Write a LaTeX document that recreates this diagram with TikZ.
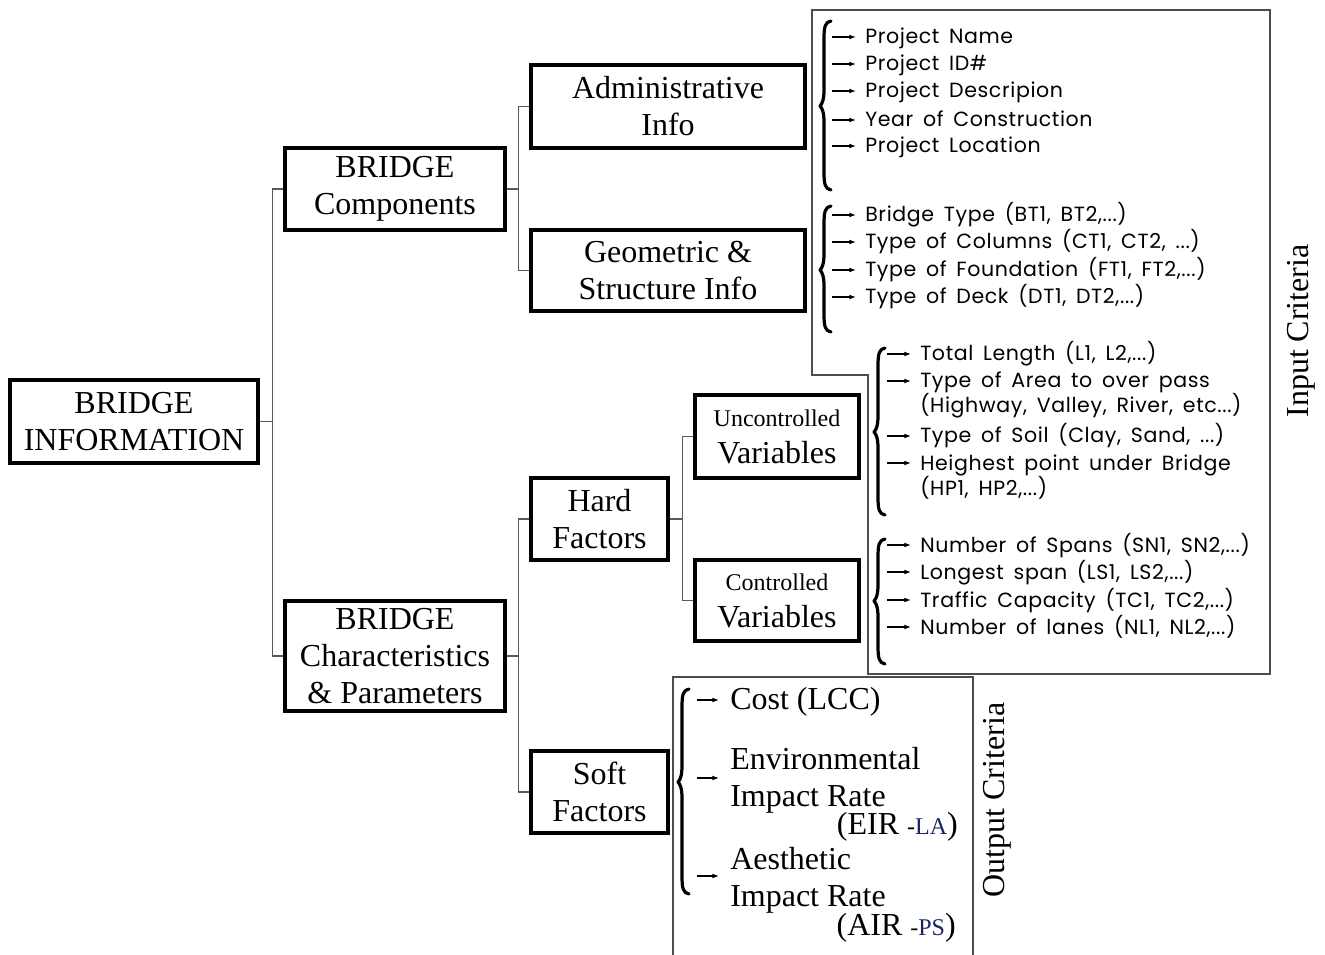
\documentclass[tikz,border=0pt]{standalone}
\usepackage{fontspec}
\setmainfont{Liberation Serif}
\newfontfamily\cadfont[WordSpace=1.6,LetterSpace=3]{Poppins}
\usetikzlibrary{arrows.meta,calc}
\definecolor{subnavy}{RGB}{25,35,100}

% curly brace opening to the right: tip x, top y, tip y, bottom y
\newcommand\curlybrace[4]{%
  \draw[bracepath] ({#1+11},#2) .. controls ({#1+5},{#2+1}) and ({#1+4},{#2+6}) .. ({#1+4},{#2+18})
    -- ({#1+4},{#3-16}) .. controls ({#1+4},{#3-6}) and ({#1+2},{#3-2}) .. (#1,#3)
    .. controls ({#1+2},{#3+2}) and ({#1+4},{#3+6}) .. ({#1+4},{#3+16})
    -- ({#1+4},{#4-18}) .. controls ({#1+4},{#4-6}) and ({#1+5},{#4-1}) .. ({#1+11},#4);}

% one list entry: name, arrow start x, y, text x, text
\newcommand\cadrow[5]{%
  \node[cad] (#1) at (#4,{#3+7}) {#5};
  \coordinate (#1a) at (#2,#3);
  \draw[listarrow] (#1a) -- ($(#1a -| #1.west)+(-9,0)$);}

\begin{document}
\begin{tikzpicture}[x=0.75pt,y=-0.75pt,
  box/.style={draw, line width=2.3pt, align=center, inner sep=0pt,
    font=\fontsize{24}{27.75}\selectfont},
  link/.style={draw=black!65, line width=0.9pt},
  listarrow/.style={-{Latex[length=5pt,width=3.6pt]}, line width=0.8pt},
  cad/.style={anchor=base west, inner sep=0pt, font=\cadfont\fontsize{15.4}{18}\selectfont},
  outtxt/.style={anchor=base west, inner sep=0pt, font=\fontsize{24}{27.75}\selectfont},
  bracepath/.style={line width=2.4pt, line cap=round, line join=round},
  critframe/.style={draw=black!70, line width=1.1pt},
  sidelabel/.style={rotate=90, inner sep=0pt, font=\fontsize{24}{28}\selectfont}
]
\useasboundingbox (0,0) rectangle (1325,955);

% tree boxes
\node[box, minimum width=186pt, minimum height=62.25pt] (info) at (134,421.5) {BRIDGE\\INFORMATION};
\node[box, minimum width=165pt, minimum height=61.5pt] (comp) at (395,189) {BRIDGE\\Components};
\node[box, minimum width=165pt, minimum height=82.5pt] (char) at (395,656) {BRIDGE\\Characteristics\\\& Parameters};
\node[box, minimum width=205.5pt, minimum height=62.25pt] (admin) at (668,106.5) {Administrative\\Info};
\node[box, minimum width=205.5pt, minimum height=60.75pt] (geom) at (668,270.5) {Geometric \&\\Structure Info};
\node[box, minimum width=102.75pt, minimum height=61.5pt] (hard) at (599.5,519) {Hard\\Factors};
\node[box, minimum width=102.75pt, minimum height=61.5pt] (soft) at (599.5,792) {Soft\\Factors};
\node[box, minimum width=123pt, minimum height=62.25pt] (unc) at (777,436.5) {{\fontsize{18}{20}\selectfont Uncontrolled}\\Variables};
\node[box, minimum width=123pt, minimum height=60.75pt] (con) at (777,600.5) {{\fontsize{18}{20}\selectfont Controlled}\\Variables};

% tree links
\draw[link] (info.east) -- ++(13,0) |- (comp.west);
\draw[link] (info.east) -- ++(13,0) |- (char.west);
\draw[link] (comp.east) -- ++(12,0) |- (admin.west);
\draw[link] (comp.east) -- ++(12,0) |- (geom.west);
\draw[link] (char.east) -- ++(12,0) |- (hard.west);
\draw[link] (char.east) -- ++(12,0) |- (soft.west);
\draw[link] (hard.east) -- ++(13,0) |- (unc.west);
\draw[link] (hard.east) -- ++(13,0) |- (con.west);

% criteria frames
\draw[critframe] (812,10) -- (1270,10) -- (1270,674) -- (868,674) -- (868,375) -- (812,375) -- cycle;
\draw[critframe] (673,958) -- (673,677) -- (973,677) -- (973,958);
\node[sidelabel] (inlabel) at (1301,331) {Input Criteria};
\node[sidelabel] (outlabel) at (997,800) {Output Criteria};

% administrative items
\curlybrace{820}{21}{106}{190}
\cadrow{pn}{832}{37}{865}{Project Name}
\cadrow{pid}{832}{64}{865}{Project ID\#}
\cadrow{pd}{832}{91}{865}{Project Descripion}
\cadrow{yc}{832}{120}{865}{Year of Construction}
\cadrow{pl}{832}{146}{865}{Project Location}

% geometric items
\curlybrace{820}{206}{270}{332}
\cadrow{bt}{832}{215}{865}{Bridge Type (BT1, BT2,...)}
\cadrow{tc}{832}{242}{865}{Type of Columns (CT1, CT2, ...)}
\cadrow{tf}{832}{270}{865}{Type of Foundation (FT1, FT2,...)}
\cadrow{td}{832}{297}{865}{Type of Deck (DT1, DT2,...)}

% uncontrolled variables
\curlybrace{874}{348}{432}{515}
\cadrow{tl}{887}{354}{920}{Total Length (L1, L2,...)}
\cadrow{ta}{887}{381}{920}{Type of Area to over pass}
\node[cad] (ta2) at (920,413) {(Highway, Valley, River, etc...)};
\cadrow{ts}{887}{436}{920}{Type of Soil (Clay, Sand, ...)}
\cadrow{hp}{887}{463}{920}{Heighest point under Bridge}
\node[cad] (hp2) at (920,496) {(HP1, HP2,...)};

% controlled variables
\curlybrace{874}{539}{601}{664}
\cadrow{ns}{887}{545}{920}{Number of Spans (SN1, SN2,...)}
\cadrow{ls}{887}{572}{920}{Longest span (LS1, LS2,...)}
\cadrow{tcap}{887}{600}{920}{Traffic Capacity (TC1, TC2,...)}
\cadrow{nl}{887}{627}{920}{Number of lanes (NL1, NL2,...)}

% output criteria
\curlybrace{678}{689}{782}{894}
\node[outtxt] (cost) at (730,709) {Cost (LCC)};
\coordinate (costa) at (697,700);
\draw[listarrow] (costa) -- ($(costa -| cost.west)+(-11,0)$);

\node[outtxt] (env1) at (730,769) {Environmental};
\node[outtxt] (env2) at (730,806) {Impact Rate};
\node[outtxt, anchor=base east] (env3) at (958,834) {(EIR {\fontsize{18}{18}\selectfont -\textcolor{subnavy}{LA}})};
\coordinate (enva) at (697,778);
\draw[listarrow] (enva) -- ($(enva -| env1.west)+(-11,0)$);

\node[outtxt] (aes1) at (730,869) {Aesthetic};
\node[outtxt] (aes2) at (730,906) {Impact Rate};
\node[outtxt, anchor=base east] (aes3) at (956,935) {(AIR {\fontsize{18}{18}\selectfont -\textcolor{subnavy}{PS}})};
\coordinate (aesa) at (697,876);
\draw[listarrow] (aesa) -- ($(aesa -| aes1.west)+(-11,0)$);
\end{tikzpicture}
\end{document}
